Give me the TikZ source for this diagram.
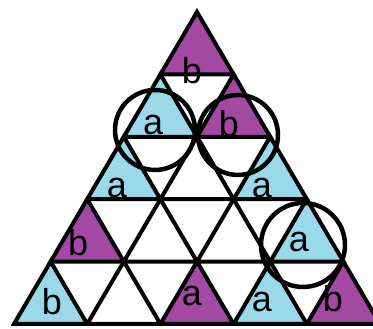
\documentclass[tikz,border=0pt]{standalone}
\usepackage{fontspec}
\setmainfont{Liberation Sans}
\definecolor{lilac}{HTML}{A349A4}
\definecolor{sky}{HTML}{99D9EA}
\tikzset{
  grid/.style={draw=black, line width=4pt, line join=miter},
  lbl/.style={anchor=base, inner sep=0pt, font=\fontsize{36}{36}\selectfont},
  ring/.style={draw=black, line width=4.5pt}
}

\begin{document}
\begin{tikzpicture}[x=36.6pt,y=62.4pt]
\useasboundingbox (-5.383,0.1923) rectangle (4.809,-5.080);
% coloured cells (row / position / colour)
\foreach \r/\k/\c in {1/1/lilac, 2/1/sky, 2/2/lilac, 3/1/sky, 3/3/sky,
    4/1/lilac, 4/4/sky, 5/1/sky, 5/3/lilac, 5/4/sky, 5/5/lilac}
  \fill[\c] ({2*\k-\r-1},{1-\r}) -- ({2*\k-\r-2},{-\r}) -- ({2*\k-\r},{-\r}) -- cycle;
% grid
\foreach \r in {1,...,5}
  \foreach \k in {1,...,\r}
    \draw[grid] ({2*\k-\r-1},{1-\r}) -- ({2*\k-\r-2},{-\r}) -- ({2*\k-\r},{-\r}) -- cycle;
% letters
\node[lbl] (b1) at (-0.137,-1.138) {b};
\node[lbl] (a21) at (-1.202,-1.971) {a};
\node[lbl] (b22) at (0.874,-2.003) {b};
\node[lbl] (a31) at (-2.186,-2.965) {a};
\node[lbl] (a33) at (1.776,-2.965) {a};
\node[lbl] (b41) at (-3.251,-3.910) {b};
\node[lbl] (a44) at (2.787,-3.846) {a};
\node[lbl] (b51) at (-3.962,-4.856) {b};
\node[lbl] (a53) at (-0.137,-4.696) {a};
\node[lbl] (a54) at (1.776,-4.808) {a};
\node[lbl] (b55) at (3.716,-4.808) {b};
% circles
\draw[ring] (-1.148,-1.891) circle [radius=40pt];
\draw[ring] (1.120,-1.971) circle [radius=40pt];
\draw[ring] (2.896,-3.734) circle [radius=42pt];
\end{tikzpicture}
\end{document}
